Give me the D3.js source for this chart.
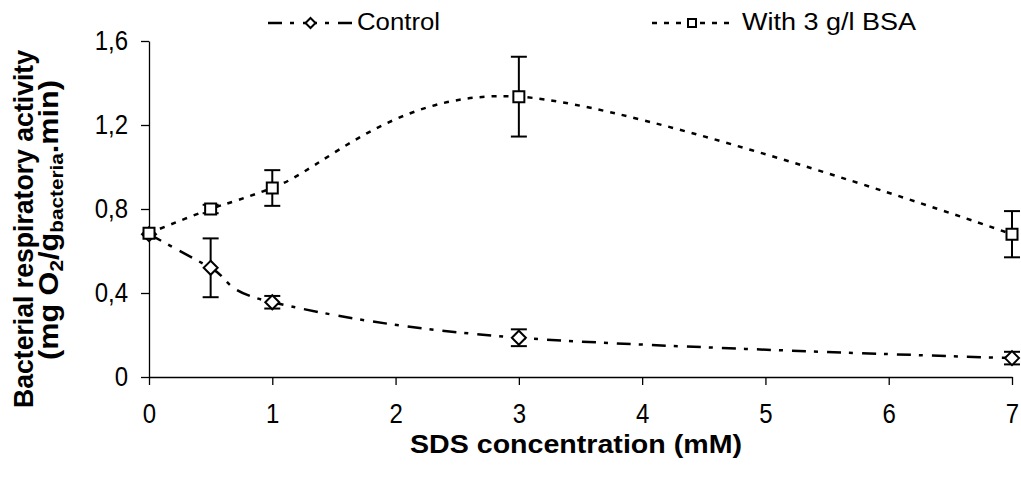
<!DOCTYPE html>
<html>
<head>
<meta charset="utf-8">
<script src="https://cdn.jsdelivr.net/npm/d3@7"></script>
<style>
  body { margin: 0; background: #fff; }
  svg { font-family: "Liberation Sans", Arial, sans-serif; }
</style>
</head>
<body>
<svg width="1021" height="477"></svg>
<script>
// data
var sds = [0, 0.5, 1, 3, 7];
var control = [0.68, 0.52, 0.356, 0.187, 0.09];
var controlErr = [0, 0.14, 0.03, 0.04, 0.03];
var bsa = [0.685, 0.80, 0.90, 1.335, 0.68];
var bsaErr = [0, 0.02, 0.085, 0.19, 0.11];
var xTicks = [0, 1, 2, 3, 4, 5, 6, 7];
var yTicks = [0, 0.4, 0.8, 1.2, 1.6];
var seriesNames = ["Control", "With 3 g/l BSA"];

var svg = d3.select("svg");

var x = d3.scaleLinear().domain([0, 7]).range([149, 1012]);
var y = d3.scaleLinear().domain([0, 1.6]).range([377, 41]);

var yAxis = d3.axisLeft(y)
	.tickValues(yTicks)
	.tickSize(8)
	.tickSizeOuter(0)
	.tickPadding(13)
	.tickFormat(d => d === 0 ? "0" : d.toFixed(1).replace(".", ","));

var xAxis = d3.axisBottom(x)
	.tickValues(xTicks)
	.tickSize(8)
	.tickSizeOuter(0)
	.tickPadding(15)
	.tickFormat(d3.format("d"));

var gy = svg.append("g")
	.attr("transform", "translate(149,0)")
	.call(yAxis);
var gx = svg.append("g")
	.attr("transform", "translate(0,377)")
	.call(xAxis);

// the labels in the picture are a bit taller than Arial, so stretch them
[gx, gy].forEach(function (g) {
	g.selectAll("path, line").attr("stroke", "#000").attr("stroke-width", 1.3);
	g.selectAll("text")
		.attr("fill", "#000")
		.attr("transform", "scale(1,1.15)")
		.style("font-size", "24px")
		.style("font-family", "Liberation Sans, Arial, sans-serif");
});

// axis titles
svg.append("text")
	.attr("x", 410)
	.attr("y", 453)
	.attr("textLength", 332)
	.attr("lengthAdjust", "spacingAndGlyphs")
	.style("font-size", "26px")
	.style("font-weight", "bold")
	.text("SDS concentration (mM)");

var yt = svg.append("g").attr("transform", "translate(33,229) rotate(-90)");
yt.append("text")
	.attr("text-anchor", "middle")
	.attr("textLength", 358)
	.attr("lengthAdjust", "spacingAndGlyphs")
	.style("font-size", "28px")
	.style("font-weight", "bold")
	.text("Bacterial respiratory activity");
var yt2 = yt.append("text")
	.attr("x", 9)
	.attr("y", 25)
	.attr("text-anchor", "middle")
	.attr("textLength", 280)
	.attr("lengthAdjust", "spacingAndGlyphs")
	.style("font-size", "28px")
	.style("font-weight", "bold");
yt2.append("tspan").text("(mg O");
yt2.append("tspan").attr("dy", 5).style("font-size", "19px").text("2");
yt2.append("tspan").attr("dy", -5).text("/g");
yt2.append("tspan").attr("dy", 5).style("font-size", "19px").text("bacteria");
yt2.append("tspan").attr("dy", -5).text(".min)");

var line = d3.line()
	.x(d => x(d[0]))
	.y(d => y(d[1]))
	.curve(d3.curveCardinal.tension(0));

var dashCtrl = "14,8,4,9";
var dashBsa = "5,7";

function diamond(sel, s) {
	sel.attr("d", "M0," + (-s) + "L" + s + ",0L0," + s + "L" + (-s) + ",0Z")
		.attr("fill", "#fff").attr("stroke", "#000").attr("stroke-width", 2);
}
function square(sel, s) {
	sel.attr("d", "M" + (-s) + "," + (-s) + "h" + (2 * s) + "v" + (2 * s) + "h" + (-2 * s) + "Z")
		.attr("fill", "#fff").attr("stroke", "#000").attr("stroke-width", 2);
}

function drawSeries(vals, errs, dash, marker, size) {
	var pts = sds.map((s, i) => [s, vals[i], errs[i]]);
	var g = svg.append("g");
	g.append("path")
		.datum(pts)
		.attr("d", line)
		.attr("fill", "none")
		.attr("stroke", "#000")
		.attr("stroke-width", 2.5)
		.attr("stroke-dasharray", dash);
	var eb = g.selectAll(".err")
		.data(pts.filter(d => d[2] > 0))
		.enter().append("g")
		.attr("stroke", "#000")
		.attr("stroke-width", 2);
	eb.append("line")
		.attr("x1", d => x(d[0])).attr("x2", d => x(d[0]))
		.attr("y1", d => y(d[1] + d[2])).attr("y2", d => y(d[1] - d[2]));
	eb.append("line")
		.attr("x1", d => x(d[0]) - 8).attr("x2", d => x(d[0]) + 8)
		.attr("y1", d => y(d[1] + d[2])).attr("y2", d => y(d[1] + d[2]));
	eb.append("line")
		.attr("x1", d => x(d[0]) - 8).attr("x2", d => x(d[0]) + 8)
		.attr("y1", d => y(d[1] - d[2])).attr("y2", d => y(d[1] - d[2]));
	g.selectAll(".mk")
		.data(pts)
		.enter().append("path")
		.attr("transform", d => "translate(" + x(d[0]) + "," + y(d[1]) + ")")
		.call(marker, size);
}

drawSeries(control, controlErr, dashCtrl, diamond, 7);
drawSeries(bsa, bsaErr, dashBsa, square, 5.5);

// legend
var legend = [
	{ name: seriesNames[0], x0: 268, x1: 353, dash: dashCtrl, marker: diamond, size: 5, tx: 357, tl: 83 },
	{ name: seriesNames[1], x0: 652, x1: 732, dash: dashBsa, marker: square, size: 4, tx: 742, tl: 174 }
];
var lg = svg.selectAll(".legend")
	.data(legend)
	.enter().append("g");
lg.append("line")
	.attr("x1", d => d.x0).attr("x2", d => d.x1)
	.attr("y1", 23).attr("y2", 23)
	.attr("stroke", "#000")
	.attr("stroke-width", 2.5)
	.attr("stroke-dasharray", d => d.dash);
lg.append("path")
	.attr("transform", d => "translate(" + ((d.x0 + d.x1) / 2) + ",23)")
	.each(function (d) { d3.select(this).call(d.marker, d.size); });
lg.append("text")
	.attr("x", d => d.tx)
	.attr("y", 30)
	.attr("textLength", d => d.tl)
	.attr("lengthAdjust", "spacingAndGlyphs")
	.style("font-size", "23px")
	.text(d => d.name);
</script>
</body>
</html>
